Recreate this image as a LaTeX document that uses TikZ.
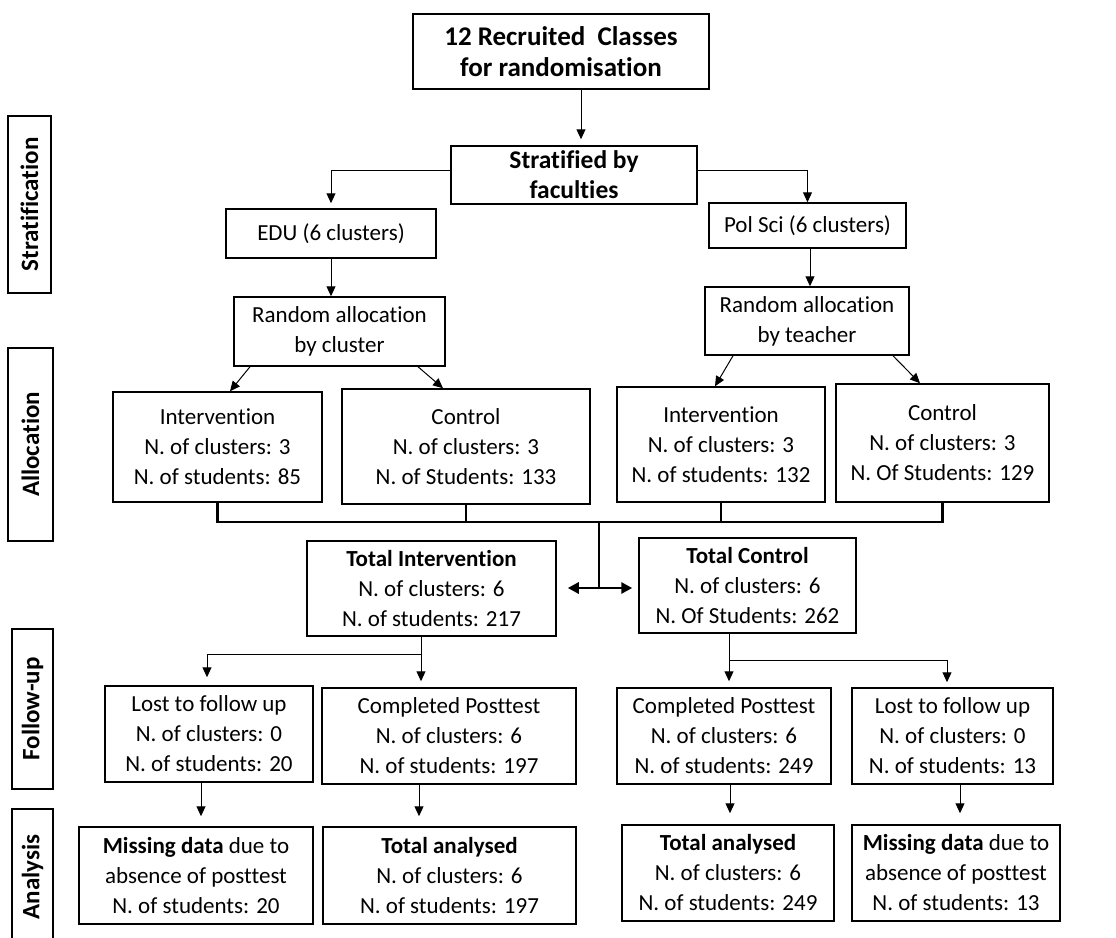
\documentclass[tikz,border=0pt]{standalone}
\usepackage{fontspec}
\setmainfont{Carlito}[Ligatures={NoCommon}]
\usetikzlibrary{arrows.meta,calc}
\begin{document}
\begin{tikzpicture}[x=1pt,y=-1pt,
 box/.style={draw, line width=1.5pt, align=center, inner sep=0pt, font=\fontsize{23}{30}\selectfont},
 bbox/.style={box, font=\fontsize{27}{31}\selectfont\bfseries},
 side/.style={draw, line width=1.5pt, rotate=90, inner sep=0pt, font=\fontsize{25}{28}\selectfont\bfseries},
 thinline/.style={line width=1pt},
 arr/.style={line width=1pt, -{Triangle[length=10pt,width=9pt]}},
 bar/.style={line width=2.8pt},
 dbl/.style={line width=2.8pt, {Triangle[length=11pt,width=11pt]}-{Triangle[length=11pt,width=11pt]}},
]
\fill[white] (0,0) rectangle (1116,937);
\useasboundingbox (0,0) rectangle (1116,937);

% side labels
\node[side, minimum width=177, minimum height=43] (s1) at (29.5,204.5) {Stratification};
\node[side, minimum width=193, minimum height=45] (s2) at (30.5,444.5) {Allocation};
\node[side, minimum width=160, minimum height=41] (s3) at (32.5,709) {Follow-up};
\node[side, minimum width=136, minimum height=41] (s4) at (32.5,877) {Analysis};

% boxes
\node[bbox, minimum width=296, minimum height=75] (top) at (561,51.5) {12 Recruited~ Classes\\for randomisation};
\node[bbox, minimum width=246, minimum height=58, font=\fontsize{25.5}{30}\selectfont\bfseries] (strat) at (574,175) {Stratified by\\faculties};
\node[box, minimum width=210, minimum height=49] (edu) at (331,233.5) {EDU (6 clusters)};
\node[box, minimum width=197, minimum height=45] (pol) at (807.5,225.5) {Pol Sci (6 clusters)};
\node[box, minimum width=211, minimum height=69] (rc) at (339.5,331.5) {Random allocation\\by cluster};
\node[box, minimum width=204, minimum height=68] (rt) at (807,321) {Random allocation\\by teacher};

\node[box, minimum width=209, minimum height=110] (ei) at (217.5,447) {Intervention\\N. of clusters: 3\\N. of students: 85};
\node[box, minimum width=248, minimum height=115] (ec) at (466,446.5) {Control\\N. of clusters: 3\\N. of Students: 133};
\node[box, minimum width=208, minimum height=115] (pi) at (721,444.5) {Intervention\\N. of clusters: 3\\N. of students: 132};
\node[box, minimum width=213, minimum height=118] (pc) at (942.5,443) {Control\\N. of clusters: 3\\N. Of Students: 129};

\node[box, minimum width=249, minimum height=95] (ti) at (431.5,588.5) {\textbf{Total Intervention}\\N. of clusters: 6\\N. of students: 217};
\node[box, minimum width=217, minimum height=95] (tc) at (747.5,585.5) {\textbf{Total Control}\\N. of clusters: 6\\N. Of Students: 262};

\node[box, minimum width=208, minimum height=96] (ll) at (209,734) {Lost to follow up\\N. of clusters: 0\\N. of students: 20};
\node[box, minimum width=254, minimum height=96] (lc) at (449,736) {Completed Posttest\\N. of clusters: 6\\N. of students: 197};
\node[box, minimum width=214, minimum height=96] (rcp) at (724,736) {Completed Posttest\\N. of clusters: 6\\N. of students: 249};
\node[box, minimum width=201, minimum height=96] (rl) at (952.5,736) {Lost to follow up\\N. of clusters: 0\\N. of students: 13};

\node[box, minimum width=234, minimum height=97] (lm) at (196,875.5) {\textbf{Missing data} due to\\absence of posttest\\N. of students: 20};
\node[box, minimum width=253, minimum height=97] (la) at (449.5,875.5) {\textbf{Total analysed}\\N. of clusters: 6\\N. of students: 197};
\node[box, minimum width=212, minimum height=96] (ra) at (728,873) {\textbf{Total analysed}\\N. of clusters: 6\\N. of students: 249};
\node[box, minimum width=208, minimum height=96] (rm) at (956,873) {\textbf{Missing data} due to\\absence of posttest\\N. of students: 13};

% connectors top part
\draw[arr, shorten >=6pt] ([xshift=20]top.south) -- ([xshift=20]top.south |- strat.north);
\draw[arr, shorten >=5pt] ([yshift=5]strat.west) -| (edu.north);
\draw[arr] ([yshift=5]strat.east) -| (pol.north);
\draw[arr] (edu.south) -- (edu.south |- rc.north);
\draw[arr] ([xshift=2.5]pol.south) -- ([xshift=2.5]pol.south |- rt.north);

\draw[arr] ([xshift=-89.5]rc.south) -- ([xshift=12.5]ei.north);
\draw[arr] ([xshift=78.5]rc.south) -- ([xshift=-23]ec.north);
\draw[arr] ([xshift=-74]rt.south) -- ([xshift=-6]pi.north);
\draw[arr] ([xshift=86]rt.south) -- ([xshift=-22.5]pc.north);

% bracket
\coordinate (bar) at (599,522);
\draw[bar] (ei.south) -- (ei.south |- bar) -- (pc.south |- bar) -- (pc.south);
\draw[bar] (ec.south) -- (ec.south |- bar);
\draw[bar] (pi.south) -- (pi.south |- bar);
\coordinate (split) at (599,588);
\draw[bar] (bar) -- (split);
\draw[dbl] ($(split -| ti.east)+(11,0)$) -- ($(split -| tc.west)+(-6,0)$);

% follow-up forks
\coordinate (fl) at (421,654);
\draw[thinline] ([xshift=-10.5]ti.south) -- (fl);
\draw[arr, shorten >=8pt] (fl) -| ([xshift=-2]ll.north);
\draw[arr, shorten >=6pt] (fl) -- (fl |- lc.north);

\coordinate (fr) at (729,660);
\draw[thinline] ([xshift=-18.5]tc.south) -- (fr);
\draw[arr, shorten >=6pt] (fr) -- (fr |- rcp.north);
\draw[arr, shorten >=5pt] (fr) -| ([xshift=-5.5]rl.north);

% analysis arrows
\draw[arr, shorten >=10pt] ([xshift=-8]ll.south) -- ([xshift=-8]ll.south |- lm.north);
\draw[arr, shorten >=10pt] ([xshift=-30]lc.south) -- ([xshift=-30]lc.south |- la.north);
\draw[arr, shorten >=11pt] ([xshift=6]rcp.south) -- ([xshift=6]rcp.south |- ra.north);
\draw[arr, shorten >=11pt] ([xshift=7.5]rl.south) -- ([xshift=7.5]rl.south |- rm.north);
\end{tikzpicture}
\end{document}
